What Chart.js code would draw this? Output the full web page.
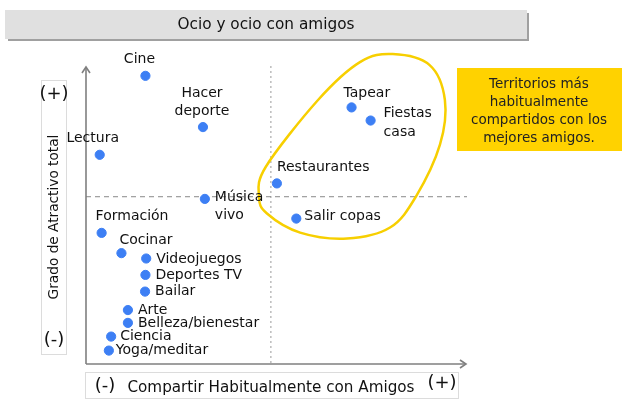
<!DOCTYPE html>
<html>
<head>
<meta charset="utf-8">
<script src="https://cdn.jsdelivr.net/npm/chart.js@4"></script>
<style>
html,body{margin:0;padding:0;background:#fff;}
#wrap{position:relative;width:630px;height:414px;}
</style>
</head>
<body>
<div id="wrap"><canvas id="c" width="630" height="414"></canvas></div>
<script>
// ---- Data ----
const categories = ["Cine","Hacer deporte","Lectura","Música vivo","Formación","Cocinar","Videojuegos","Deportes TV","Bailar","Arte","Belleza/bienestar","Ciencia","Yoga/meditar","Tapear","Fiestas casa","Restaurantes","Salir copas"];
const shareValues = [15.6,30.7,3.6,31.2,4.1,9.3,15.8,15.6,15.5,11.0,11.0,6.6,6.0,69.7,74.7,50.1,55.2];
const appealValues = [96.7,79.5,70.2,55.4,44.0,37.2,35.4,29.9,24.3,18.1,13.8,9.2,4.5,86.1,81.7,60.6,48.8];
const labelLines = [["Cine"],["Hacer","deporte"],["Lectura"],["Música","vivo"],["Formación"],["Cocinar"],["Videojuegos"],["Deportes TV"],["Bailar"],["Arte"],["Belleza/bienestar"],["Ciencia"],["Yoga/meditar"],["Tapear"],["Fiestas","casa"],["Restaurantes"],["Salir copas"]];
const dividerX = 48.4;
const dividerY = 56.3;
// outline of highlighted territory (data units)
const blobX = [80.5,90.2,94.2,92.9,86.6,79.8,68.5,56.2,47.5,45.4,47.2,60.9,71.9];
const blobY = [104.0,100.3,88.6,73.6,56.2,45.8,42.1,44.1,50.5,56.2,66.2,88.6,101.3];
const titleText = "Ocio y ocio con amigos";
const yTitle = "Grado de Atractivo total";
const xTitle = "Compartir Habitualmente con Amigos";
const noteLines = ["Territorios más","habitualmente","compartidos con los","mejores amigos."];

// ---- Styles (label placement offsets in px) ----
const FONT = "'DejaVu Sans'";
const labelPlace = [
  {a:"center",dx:-6,dy:-16},
  {a:"center",dx:-1,dy:-34},
  {a:"center",dx:-7,dy:-16},
  {a:"left",dx:10,dy:-2},
  {a:"left",dx:-6,dy:-17},
  {a:"left",dx:-2,dy:-13},
  {a:"left",dx:10,dy:1},
  {a:"left",dx:10,dy:0},
  {a:"left",dx:10,dy:0},
  {a:"left",dx:10,dy:0},
  {a:"left",dx:10,dy:0},
  {a:"left",dx:9,dy:0},
  {a:"left",dx:7,dy:0},
  {a:"left",dx:-8,dy:-14},
  {a:"left",dx:13,dy:-7},
  {a:"left",dx:0,dy:-16},
  {a:"left",dx:8,dy:-2}
];

function catmull(ctx, pts){
  const n = pts.length;
  ctx.moveTo(pts[0][0], pts[0][1]);
  for(let i=0;i<n;i++){
    const p0=pts[(i-1+n)%n], p1=pts[i], p2=pts[(i+1)%n], p3=pts[(i+2)%n];
    const c1=[p1[0]+(p2[0]-p0[0])/6, p1[1]+(p2[1]-p0[1])/6];
    const c2=[p2[0]-(p3[0]-p1[0])/6, p2[1]-(p3[1]-p1[1])/6];
    ctx.bezierCurveTo(c1[0],c1[1],c2[0],c2[1],p2[0],p2[1]);
  }
  ctx.closePath();
}

const decor = {
  id:"decor",
  beforeDatasetsDraw(chart){
    const ctx = chart.ctx, xs = chart.scales.x, ys = chart.scales.y, ca = chart.chartArea;
    ctx.save();
    // title box
    ctx.fillStyle = "#a0a0a0";
    ctx.fillRect(8,13,521,28);
    ctx.fillStyle = "#e0e0e0";
    ctx.fillRect(5,10,522,29);
    ctx.fillStyle = "#111";
    ctx.font = "15.3px " + FONT;
    ctx.textAlign="center"; ctx.textBaseline="middle";
    ctx.fillText(titleText, 266, 25);

    // y title box
    ctx.strokeStyle="#dcdcdc"; ctx.lineWidth=1;
    ctx.strokeRect(41.5,80.5,25,274);
    ctx.fillStyle="#111";
    ctx.font = "18px " + FONT;
    ctx.fillText("(+)", 54, 94);
    ctx.fillText("(-)", 54, 340);
    ctx.save();
    ctx.translate(54, 217); ctx.rotate(-Math.PI/2);
    ctx.font = "13.7px " + FONT;
    ctx.fillText(yTitle, 0, 0);
    ctx.restore();

    // x title box
    ctx.strokeRect(85.5,372.5,373,26);
    ctx.font = "18px " + FONT;
    ctx.fillText("(-)", 105, 386);
    ctx.fillText("(+)", 442, 383);
    ctx.font = "15.2px " + FONT;
    ctx.fillText(xTitle, 271, 388);

    // dividers
    ctx.strokeStyle="#999"; ctx.lineWidth=1;
    ctx.setLineDash([2,3]);
    const vx = xs.getPixelForValue(dividerX);
    ctx.beginPath(); ctx.moveTo(vx+0.5, ca.top); ctx.lineTo(vx+0.5, ca.bottom); ctx.stroke();
    ctx.setLineDash([5,4]);
    ctx.strokeStyle="#888";
    const hy = ys.getPixelForValue(dividerY);
    ctx.beginPath(); ctx.moveTo(ca.left, hy+0.5); ctx.lineTo(ca.right, hy+0.5); ctx.stroke();
    ctx.setLineDash([]);

    // axes with arrows
    ctx.strokeStyle="#7f7f7f"; ctx.lineWidth=1.6;
    ctx.beginPath(); ctx.moveTo(ca.left, ca.bottom); ctx.lineTo(ca.left, ca.top+1); ctx.stroke();
    ctx.beginPath(); ctx.moveTo(ca.left-4, ca.top+7); ctx.lineTo(ca.left, ca.top+1); ctx.lineTo(ca.left+4, ca.top+7); ctx.stroke();
    ctx.beginPath(); ctx.moveTo(ca.left, ca.bottom); ctx.lineTo(ca.right-1, ca.bottom); ctx.stroke();
    ctx.beginPath(); ctx.moveTo(ca.right-7, ca.bottom-4); ctx.lineTo(ca.right-1, ca.bottom); ctx.lineTo(ca.right-7, ca.bottom+4); ctx.stroke();

    // blob
    const pts = blobX.map((v,i)=>[xs.getPixelForValue(v), ys.getPixelForValue(blobY[i])]);
    ctx.strokeStyle="#f7cf00"; ctx.lineWidth=2.5;
    ctx.beginPath(); catmull(ctx, pts); ctx.stroke();

    // note box
    ctx.fillStyle="#ffd200";
    ctx.fillRect(457,68,165,83);
    ctx.fillStyle="#222";
    ctx.font = "13.5px " + FONT;
    noteLines.forEach((t,i)=>ctx.fillText(t, 539, 84 + i*18.3));
    ctx.restore();
  },
  afterDatasetsDraw(chart){
    const ctx = chart.ctx, meta = chart.getDatasetMeta(0);
    ctx.save();
    ctx.fillStyle="#111";
    ctx.font = "14px " + FONT;
    ctx.textBaseline="middle";
    meta.data.forEach((pt,i)=>{
      const p = labelPlace[i];
      ctx.textAlign = p.a;
      labelLines[i].forEach((t,j)=>ctx.fillText(t, pt.x+p.dx, pt.y+p.dy + j*18.5));
    });
    ctx.restore();
  }
};

new Chart(document.getElementById("c"), {
  type:"scatter",
  data:{
    labels: categories,
    datasets:[{
      data: shareValues.map((v,i)=>({x:v, y:appealValues[i]})),
      backgroundColor:"#3d7ff4",
      borderColor:"#3d7ff4",
      pointRadius:4.6,
      pointHoverRadius:4.6
    }]
  },
  options:{
    responsive:false,
    animation:false,
    events:[],
    layout:{padding:{left:86,right:163,top:66,bottom:50}},
    plugins:{legend:{display:false},tooltip:{enabled:false},title:{display:false}},
    scales:{
      x:{type:"linear",min:0,max:100,display:false},
      y:{type:"linear",min:0,max:100,display:false}
    }
  },
  plugins:[decor]
});
</script>
</body>
</html>
